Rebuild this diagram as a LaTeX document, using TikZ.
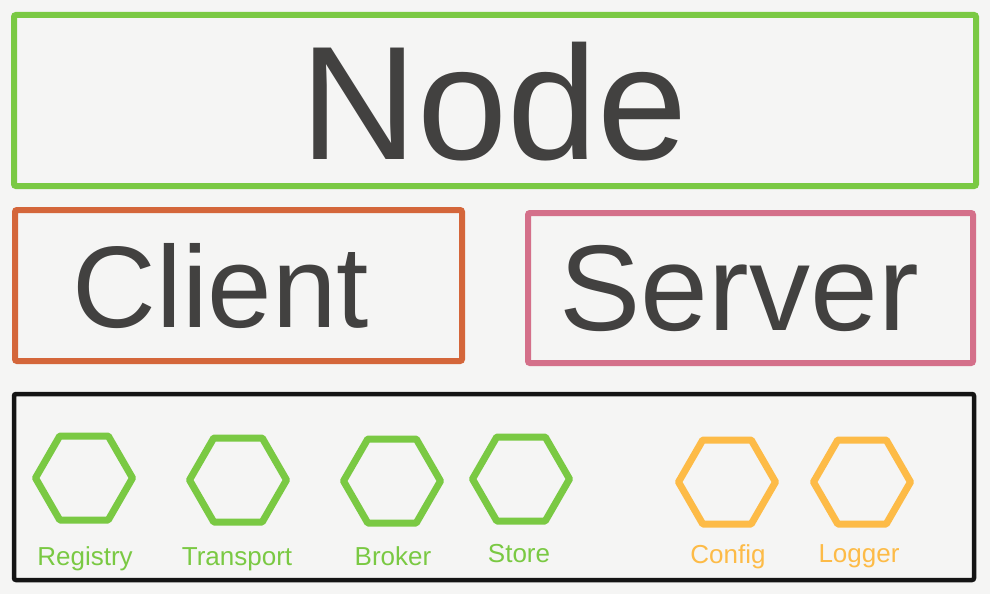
\documentclass[tikz,border=0pt]{standalone}
\usepackage{fontspec}
\setmainfont{Liberation Sans}
\usetikzlibrary{shapes.geometric}
\definecolor{paper}{HTML}{F5F5F4}
\definecolor{ink}{HTML}{424140}
\definecolor{nodegreen}{HTML}{7AC943}
\definecolor{clientred}{HTML}{D4663A}
\definecolor{serverpink}{HTML}{D4708A}
\definecolor{pluginyellow}{HTML}{FDBB47}
\definecolor{frame}{HTML}{141414}
\tikzset{
  box/.style={line width=6pt,rounded corners=2pt},
  title/.style={ink,anchor=base,inner sep=0pt},
  hexa/.style={regular polygon,regular polygon sides=6,minimum size=97pt,
    inner sep=0pt,draw,line width=7pt,line join=round},
  plug/.style={anchor=base,inner sep=0pt,font=\fontsize{26}{28}\selectfont}
}

\begin{document}
\begin{tikzpicture}[x=1pt,y=-1pt]
  % Paper
  \fill[paper] (0,0) rectangle (990,594);
  \useasboundingbox (0,0) rectangle (990,594);

  % Node layer
  \draw[box,nodegreen] (14,15) rectangle (976,186);
  \node[title,font=\fontsize{162}{170}\selectfont] (node) at (494,159) {Node};

  % Client and server
  \draw[box,clientred] (15,210) rectangle (462,361);
  \node[title,font=\fontsize{116}{120}\selectfont] (client) at (221,327) {Client};

  \draw[box,serverpink] (528,213) rectangle (973,363);
  \node[title,font=\fontsize{122}{126}\selectfont] (server) at (739,330) {Server};

  % Plugins
  \draw[box,frame,line width=4.5pt] (14,394) rectangle (974,580);

  \node[hexa,nodegreen] (registry) at (84,478) {};
  \node[hexa,nodegreen] (transport) at (238,480) {};
  \node[hexa,nodegreen] (broker) at (392,481) {};
  \node[hexa,nodegreen] (store) at (521,479) {};
  \node[hexa,pluginyellow] (config) at (727,482) {};
  \node[hexa,pluginyellow] (logger) at (862,482) {};

  \node[plug,nodegreen] (registrylabel) at (85,565) {Registry};
  \node[plug,nodegreen] (transportlabel) at (237,565) {Transport};
  \node[plug,nodegreen] (brokerlabel) at (393,565) {Broker};
  \node[plug,nodegreen] (storelabel) at (519,562) {Store};
  \node[plug,pluginyellow] (configlabel) at (728,563) {Config};
  \node[plug,pluginyellow] (loggerlabel) at (859,562) {Logger};
\end{tikzpicture}
\end{document}
